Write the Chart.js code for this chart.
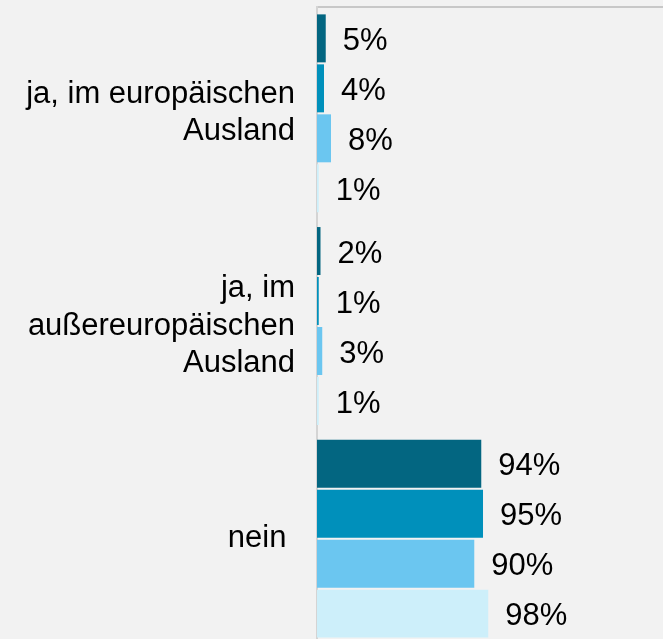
<!DOCTYPE html>
<html>
<head>
<meta charset="utf-8">
<script src="https://cdn.jsdelivr.net/npm/chart.js@4"></script>
<style>
  html,body{margin:0;padding:0;background:#f2f2f2;overflow:hidden;width:663px;height:639px}
  canvas{display:block}
</style>
</head>
<body>
<canvas id="chart" width="663" height="645"></canvas>
<script>
// categories (multi-line labels)
const categories=[['ja, im europäischen','Ausland'],['ja, im','außereuropäischen','Ausland'],'nein '];
// four groups, one value per category (percent)
const series1=[5,2,94];
const series2=[4,1,95];
const series3=[8,3,90];
const series4=[1,1,98];
const seriesNames=['Gruppe 1','Gruppe 2','Gruppe 3','Gruppe 4'];
const colors=['#036681','#0090bb','#6bc6f0','#cdeffa'];

const FONT='"Liberation Sans", Arial, sans-serif';

// value labels right of each bar
const barLabels={
  id:'barLabels',
  afterDatasetsDraw(chart){
    const ctx=chart.ctx;
    ctx.save();
    ctx.font='31px '+FONT;
    ctx.fillStyle='#000';
    ctx.textAlign='left';
    ctx.textBaseline='middle';
    chart.data.datasets.forEach((ds,i)=>{
      chart.getDatasetMeta(i).data.forEach((bar,j)=>{
        ctx.fillText(ds.data[j]+'%',bar.x+17,bar.y+3);
      });
    });
    ctx.restore();
  }
};

new Chart(document.getElementById('chart'),{type:'bar',
  data:{labels:categories,
    datasets:[series1,series2,series3,series4].map((d,i)=>({label:seriesNames[i],data:d,
      backgroundColor:colors[i],borderWidth:0,categoryPercentage:0.94,barPercentage:0.96}))},
  options:{indexAxis:'y',responsive:false,animation:false,
    layout:{padding:0},
    plugins:{legend:{display:false},tooltip:{enabled:false}},
    scales:{
      x:{position:'top',min:0,max:198,
        ticks:{display:false},grid:{display:false,drawTicks:false},
        border:{display:true,color:'#c8c8c8',width:2},
        afterFit:s=>{s.height=7;s.paddingLeft=0;s.paddingRight=0;}},
      y:{grid:{display:false,drawTicks:false},
        border:{display:true,color:'#d4d4d4',width:2},
        ticks:{color:'#000',padding:22,font:{family:FONT,size:31,lineHeight:1.2}},
        afterFit:s=>{s.width=317;s.paddingTop=0;s.paddingBottom=0;}}
    }},
  plugins:[barLabels]
});
</script>
</body>
</html>
